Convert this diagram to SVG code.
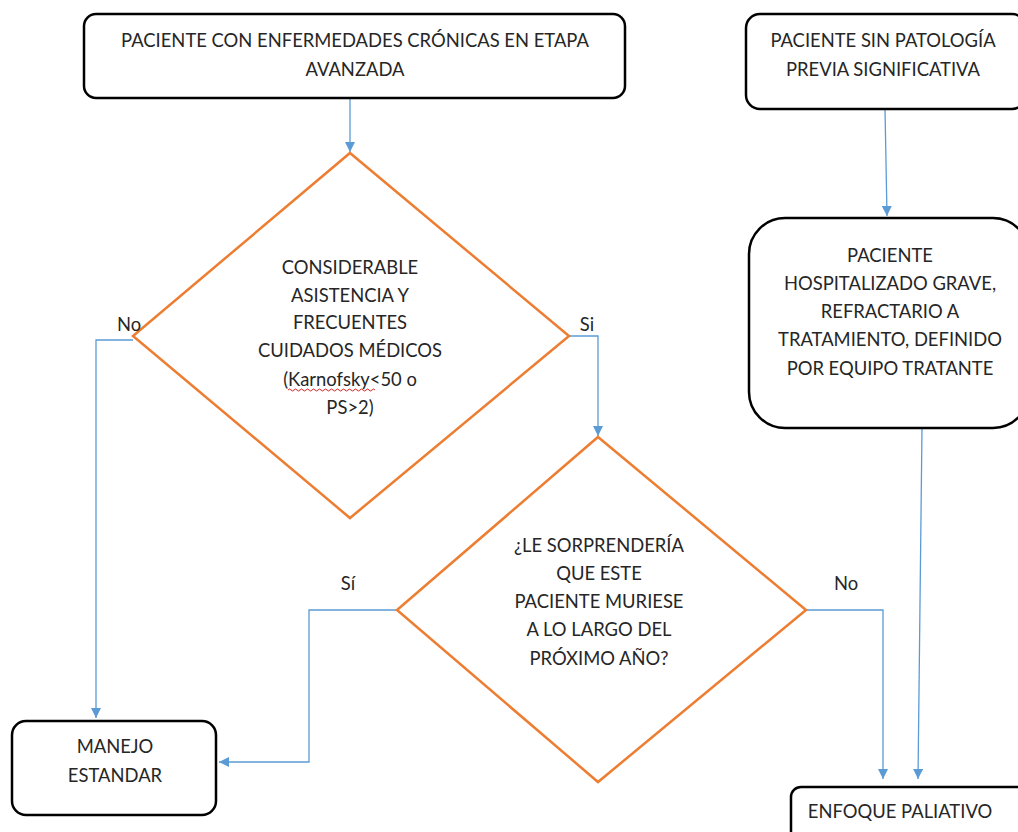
<svg xmlns="http://www.w3.org/2000/svg" width="1018" height="832" viewBox="0 0 1018 832">
<defs>
<style>
.box{fill:#fff;stroke:#000;stroke-width:2.5}
.dia{fill:#fff;stroke:#ED7D31;stroke-width:2.5}
.con{fill:none;stroke:#5B9BD5;stroke-width:1.3}
text{font-family:Lato,"Liberation Sans",sans-serif;font-size:18.4px;fill:#262626;text-anchor:middle}
</style>
<marker id="ah" viewBox="0 0 10 10" refX="10" refY="5" markerWidth="10" markerHeight="10" markerUnits="userSpaceOnUse" orient="auto">
<path d="M0,0 L10,5 L0,10 z" fill="#5B9BD5"/>
</marker>
</defs>
<rect width="1018" height="832" fill="#fff"/>
<g id="connectors">
<path class="con" d="M350,98 V152" marker-end="url(#ah)"/>
<path class="con" d="M133,340 H96 V718" marker-end="url(#ah)"/>
<path class="con" d="M569,336 H598 V436" marker-end="url(#ah)"/>
<path class="con" d="M397,610 H309 V762 H219" marker-end="url(#ah)"/>
<path class="con" d="M806,610 H883 V779" marker-end="url(#ah)"/>
<path class="con" d="M885,109 L887,216" marker-end="url(#ah)"/>
<path class="con" d="M922,428 L918,779" marker-end="url(#ah)"/>
</g>
<g id="n1">
<rect class="box" x="84" y="14" width="541" height="84" rx="12"/>
<text x="355" y="47">PACIENTE CON ENFERMEDADES CRÓNICAS EN ETAPA</text>
<text x="355" y="76">AVANZADA</text>
</g>
<g id="n2">
<rect class="box" x="746" y="14" width="280" height="95" rx="14"/>
<text x="883" y="47">PACIENTE SIN PATOLOGÍA</text>
<text x="883" y="76">PREVIA SIGNIFICATIVA</text>
</g>
<g id="d1">
<path class="dia" d="M350,153 L569,336 L350,518 L133,336 Z"/>
<text x="350" y="274">CONSIDERABLE</text>
<text x="350" y="302">ASISTENCIA Y</text>
<text x="350" y="329">FRECUENTES</text>
<text x="350" y="357">CUIDADOS MÉDICOS</text>
<text x="350" y="386">(Karnofsky&lt;50 o</text>
<text x="350" y="414">PS&gt;2)</text>
<path d="M288,390 q1.5,-2 3,0 t3,0 t3,0 t3,0 t3,0 t3,0 t3,0 t3,0 t3,0 t3,0 t3,0 t3,0 t3,0 t3,0 t3,0 t3,0 t3,0 t3,0 t3,0 t3,0 t3,0 t3,0 t3,0 t3,0 t3,0 t3,0 t3,0 t3,0 t3,0" fill="none" stroke="#E02020" stroke-width="1"/>
</g>
<g id="d2">
<path class="dia" d="M598,437 L806,610 L598,782 L397,610 Z"/>
<text x="599" y="552">¿LE SORPRENDERÍA</text>
<text x="599" y="580">QUE ESTE</text>
<text x="599" y="608">PACIENTE MURIESE</text>
<text x="599" y="636">A LO LARGO DEL</text>
<text x="599" y="665">PRÓXIMO AÑO?</text>
</g>
<g id="n3">
<rect class="box" x="749" y="218" width="280" height="210" rx="36"/>
<text x="890" y="262">PACIENTE</text>
<text x="890" y="290">HOSPITALIZADO GRAVE,</text>
<text x="890" y="318">REFRACTARIO A</text>
<text x="890" y="346">TRATAMIENTO, DEFINIDO</text>
<text x="890" y="375">POR EQUIPO TRATANTE</text>
</g>
<g id="n4">
<rect class="box" x="12" y="721" width="204" height="94" rx="14"/>
<text x="115" y="753">MANEJO</text>
<text x="115" y="782">ESTANDAR</text>
</g>
<g id="n5">
<rect class="box" x="791" y="787" width="240" height="60" rx="10"/>
<text x="900" y="818">ENFOQUE PALIATIVO</text>
</g>
<g id="labels">
<text x="129" y="331">No</text>
<text x="587" y="331">Si</text>
<text x="348" y="590">Sí</text>
<text x="846" y="590">No</text>
</g>
</svg>
